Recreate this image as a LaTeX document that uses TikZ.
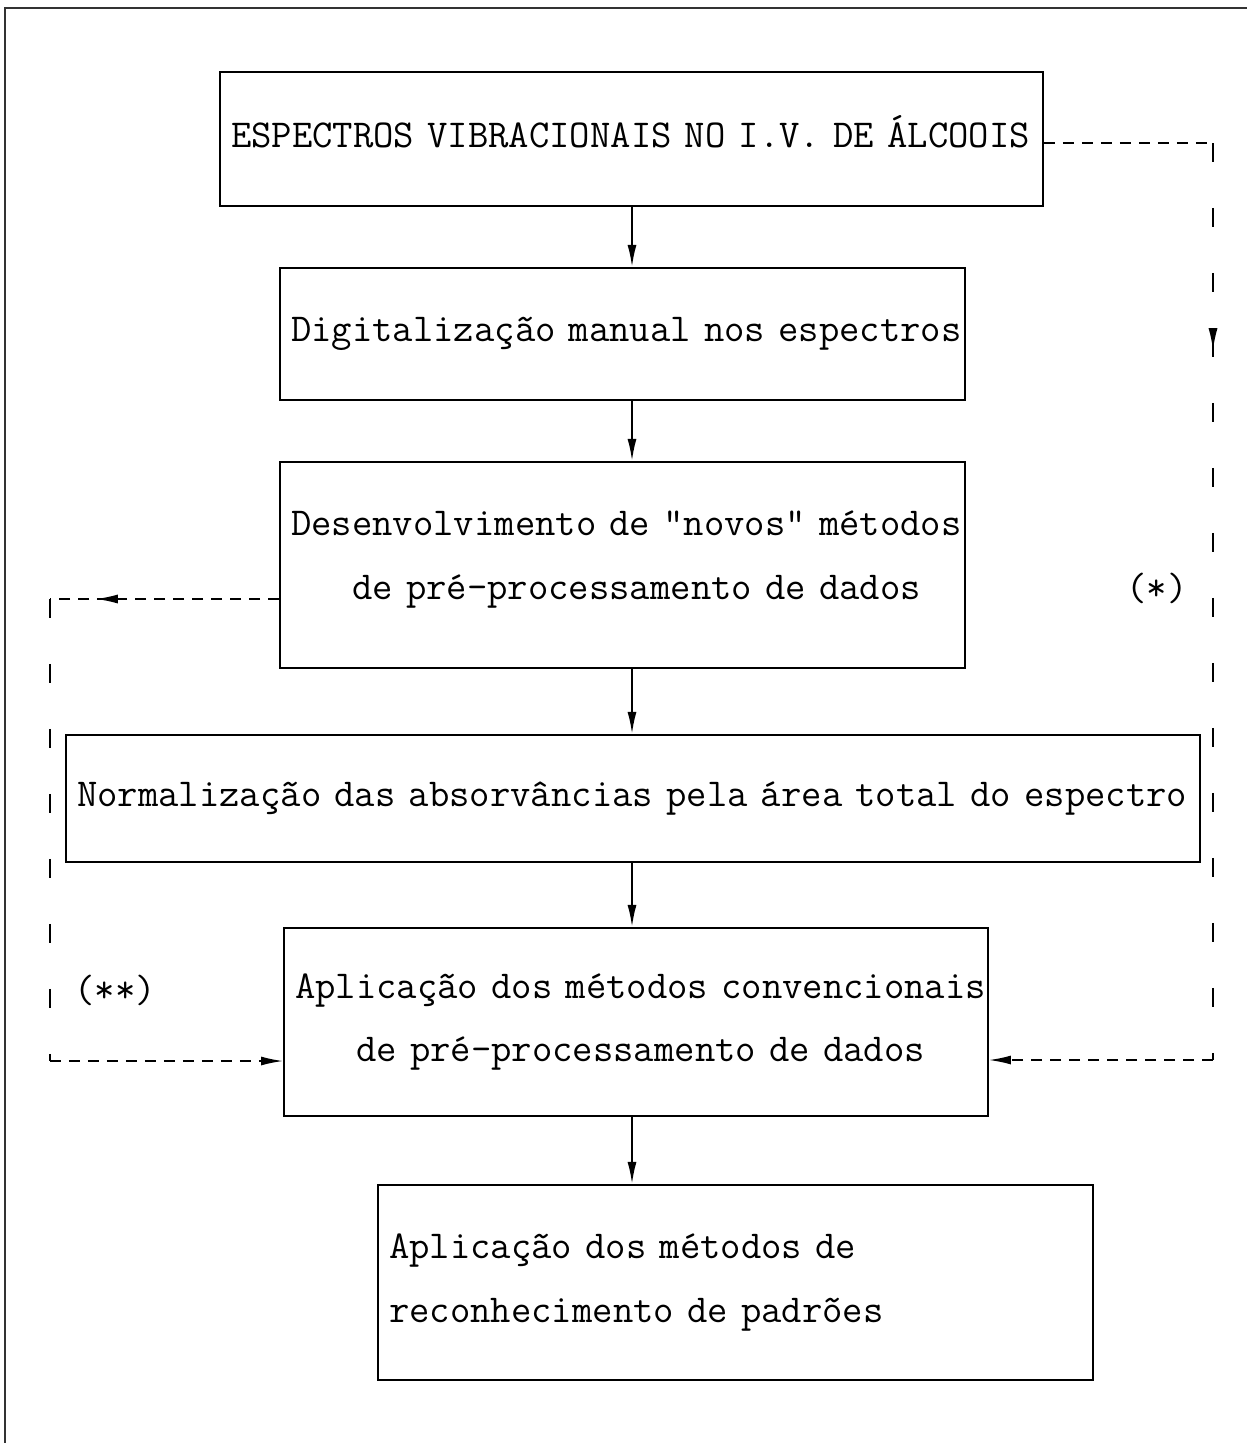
\documentclass[tikz,border=0pt]{standalone}
\usepackage{fontspec}
\usetikzlibrary{arrows.meta,decorations.markings}
\newcommand\twfont{\ttfamily\addfontfeatures{FakeBold=0.8}\fontsize{22.5}{36.3}\selectfont}
\tikzset{
  box/.style={draw, line width=1.2pt, inner xsep=0.22cm, inner ysep=0pt, align=left, font=\twfont},
  lbl/.style={font=\twfont, inner sep=0pt},
  arr/.style={line width=1.1pt, -{Latex[length=0.44cm,width=0.18cm]}},
  hdash/.style={line width=0.9pt, dash pattern=on 0.22cm off 0.16cm},
  vdash/.style={line width=1.0pt, dash pattern=on 0.38cm off 0.92cm},
  tipend/.style={-{Latex[length=0.44cm,width=0.18cm]}},
  midtip/.style={postaction={decorate}, decoration={markings,
      mark=at position #1 with {\arrow{Latex[length=0.44cm,width=0.18cm]}}}},
  frame/.style={line width=0.9pt, black!80}
}
\begin{document}
\begin{tikzpicture}[x=0.02cm,y=-0.02cm]
\useasboundingbox (0,0) rectangle (1247,1443);
% scan frame
\draw[frame] (5,1443) -- (5,8) -- (1247,8);

% boxes
\node[box, text width=16.02cm, minimum height=2.68cm] (b1) at (631.5,139)
  {\mbox{ESPECTROS VIBRACIONAIS NO I.V. DE ÁLCOOIS}\rule[-0.32cm]{0pt}{0pt}};
\node[box, text width=13.26cm, minimum height=2.64cm] (b2) at (622.5,334)
  {\mbox{Digitalização manual nos espectros}};
\node[box, text width=13.26cm, minimum height=4.12cm] (b3) at (622.5,565)
  {\mbox{Desenvolvimento de "novos" métodos}\\\mbox{\phantom{xxx}de pré-processamento de dados}\rule[-0.4cm]{0pt}{0pt}};
\node[box, text width=22.24cm, minimum height=2.54cm] (b4) at (633,798.5)
  {\mbox{Normalização das absorvâncias pela área total do espectro}};
\node[box, text width=13.64cm, minimum height=3.76cm] (b5) at (636,1022)
  {\mbox{Aplicação dos métodos convencionais}\\\mbox{\phantom{xxx}de pré-processamento de dados}};
\node[box, text width=13.86cm, minimum height=3.90cm] (b6) at (735.5,1282.5)
  {\mbox{Aplicação dos métodos de}\\\mbox{reconhecimento de padrões}};

% labels
\node[lbl] (s1) at (1157,588) {(*)};
\node[lbl] (s2) at (115,990) {(**)};

% main flow
\coordinate (ax) at (632,0);
\draw[arr] (b1.south -| ax) -- (b2.north -| ax);
\draw[arr] (b2.south -| ax) -- (b3.north -| ax);
\draw[arr] (b3.south -| ax) -- (b4.north -| ax);
\draw[arr] (b4.south -| ax) -- (b5.north -| ax);
\draw[arr] (b5.south -| ax) -- (b6.north -| ax);

% right dashed loop (*)
\coordinate (r1) at (1213,143);
\coordinate (r2) at (1213,1060);
\draw[hdash] (b1.east |- r1) -- (r1);
\draw[vdash, midtip=0.226] (r1) -- (r2);
\draw[hdash, tipend] (r2) -- (r2 -| b5.east);

% left dashed loop (**)
\coordinate (l1) at (50,599);
\coordinate (l2) at (50,1061);
\draw[hdash, midtip=0.8] (b3.west |- l1) -- (l1);
\draw[vdash] (l1) -- (l2);
\draw[hdash, tipend] (l2) -- (l2 -| b5.west);
\end{tikzpicture}
\end{document}
